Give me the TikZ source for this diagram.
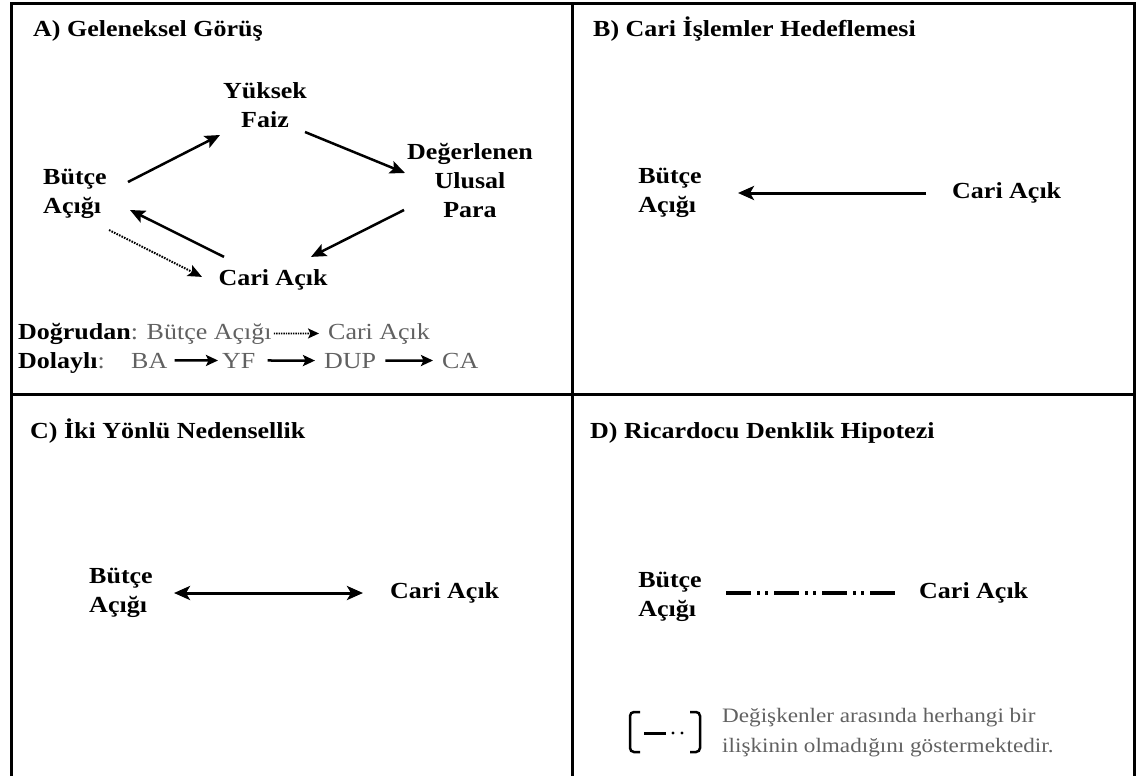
\documentclass[tikz,border=0pt]{standalone}
\usepackage{fontspec}
\setmainfont{Liberation Serif}[FakeStretch=1.13]
\usetikzlibrary{arrows.meta}
\definecolor{lg}{gray}{0.38}
\begin{document}
\begin{tikzpicture}[x=1pt,y=-1pt,
  lbl/.style={font=\fontsize{23}{29}\selectfont\bfseries, inner sep=0pt, align=center},
  lblL/.style={font=\fontsize{23}{29}\selectfont\bfseries, inner sep=0pt, align=left},
  ttl/.style={font=\fontsize{23}{29}\selectfont\bfseries, inner sep=0pt, anchor=base west},
  small/.style={font=\fontsize{23}{29}\selectfont, inner sep=0pt, anchor=base west},
  legend/.style={font=\fontsize{20.5}{30}\selectfont, text=lg, inner sep=0pt, align=left, anchor=west},
  frame/.style={line width=3pt},
  arr/.style={line width=2.5pt, -{Stealth[length=15pt,width=13pt,inset=3pt]}},
  dotarr/.style={line width=2pt, dash pattern=on 1.6pt off 1.2pt, -{Stealth[length=14pt,width=12pt,inset=3pt,sep=0pt]}},
  sarr/.style={line width=2.5pt, -{Stealth[length=12pt,width=11pt,inset=2.5pt]}},
  sdot/.style={line width=1.8pt, dash pattern=on 1.4pt off 1pt, -{Stealth[length=11pt,width=10pt,inset=2.5pt]}},
  barr/.style={line width=3pt, -{Stealth[length=16pt,width=14pt,inset=4pt]}},
  darr/.style={line width=3pt, {Stealth[length=16pt,width=14pt,inset=4pt]}-{Stealth[length=16pt,width=14pt,inset=4pt]}},
  nolink/.style={line width=4pt, dash pattern=on 25pt off 6pt on 3pt off 5pt on 3pt off 6pt}
]
\useasboundingbox (0,0) rectangle (1137,776);
% frame
\draw[frame] (11,776) -- (11,4) -- (1134,4) -- (1134,776);
\draw[frame] (11,394) -- (1134,394);
\draw[frame] (572,4) -- (572,776);

% ---------- Panel A
\node[ttl] (tA) at (33,37) {A) Geleneksel Görüş};
\node[lbl] (yf) at (265,105) {Yüksek\\Faiz};
\node[lbl] (dup) at (470,181) {Değerlenen\\Ulusal\\Para};
\node[lblL] (ba) at (75,194) {Bütçe\\Açığı};
\node[ttl, anchor=base] (ca) at (273,285.5) {Cari Açık};

\draw[arr] ([shift={(53,-12)}]ba.center) -- ([shift={(-45,30)}]yf.center);
\draw[arr] ([shift={(40,27)}]yf.center) -- ([shift={(-65,-8)}]dup.center);
\draw[arr] ([shift={(-66,29)}]dup.center) -- ([shift={(38,-23)}]ca.center);
\draw[arr] ([shift={(-49,-23)}]ca.center) -- ([shift={(55,16)}]ba.center);
\draw[dotarr] ([shift={(34,36)}]ba.center) -- ([shift={(-71,-3)}]ca.center);

\node[small] (dg) at (18,339) {\textbf{Doğrudan}\textcolor{lg}{: Bütçe Açığı}};
\node[small, text=lg] (dgc) at (328,339) {Cari Açık};
\draw[sdot, shorten <=2pt, shorten >=9pt] (dg.east) -- (dgc.west);

\node[small] (dl) at (18,368) {\textbf{Dolaylı}\textcolor{lg}{:}};
\node[small, text=lg] (nba) at (131,368) {BA};
\node[small, text=lg] (nyf) at (222,368) {YF};
\node[small, text=lg] (ndup) at (324,368) {DUP};
\node[small, text=lg] (nca) at (442,368) {CA};
\draw[sarr, shorten <=7pt, shorten >=4pt] (nba.east) -- (nyf.west);
\draw[sarr, shorten <=12pt, shorten >=9pt] (nyf.east) -- (ndup.west);
\draw[sarr, shorten <=9pt, shorten >=9pt] (ndup.east) -- (nca.west);

% ---------- Panel B
\node[ttl] (tB) at (593,37) {B) Cari İşlemler Hedeflemesi};
\node[lblL] (ba2) at (670,193) {Bütçe\\Açığı};
\node[lbl, anchor=west] (ca2) at (952,193) {Cari Açık};
\draw[barr] ([xshift=-26pt]ca2.west) -- (ba2.east -| 738,0);

% ---------- Panel C
\node[ttl] (tC) at (30,438) {C) İki Yönlü Nedensellik};
\node[lblL] (ba3) at (121,593) {Bütçe\\Açığı};
\node[lbl, anchor=west] (ca3) at (390,593) {Cari Açık};
\draw[darr] (ba3.east -| 174,0) -- ([xshift=-27pt]ca3.west);

% ---------- Panel D
\node[ttl] (tD) at (590,438) {D) Ricardocu Denklik Hipotezi};
\node[lblL] (ba4) at (670,597) {Bütçe\\Açığı};
\node[lbl, anchor=west] (ca4) at (919,593) {Cari Açık};
\draw[nolink] (ca4.west -| 726,0) -- ([xshift=-24pt]ca4.west);

% legend
\draw[line width=2.5pt, rounded corners=4pt] (640,712) -- (630,712) -- (630,752) -- (640,752);
\draw[line width=2.5pt, rounded corners=4pt] (690,712) -- (700,712) -- (700,752) -- (690,752);
\draw[line width=3pt] (644,733) -- (666,733);
\fill (673,733) circle (1.6pt) (682,733) circle (1.6pt);
\node[legend] (lg) at (722,733) {Değişkenler arasında herhangi bir\\ilişkinin olmadığını göstermektedir.};
\end{tikzpicture}
\end{document}
